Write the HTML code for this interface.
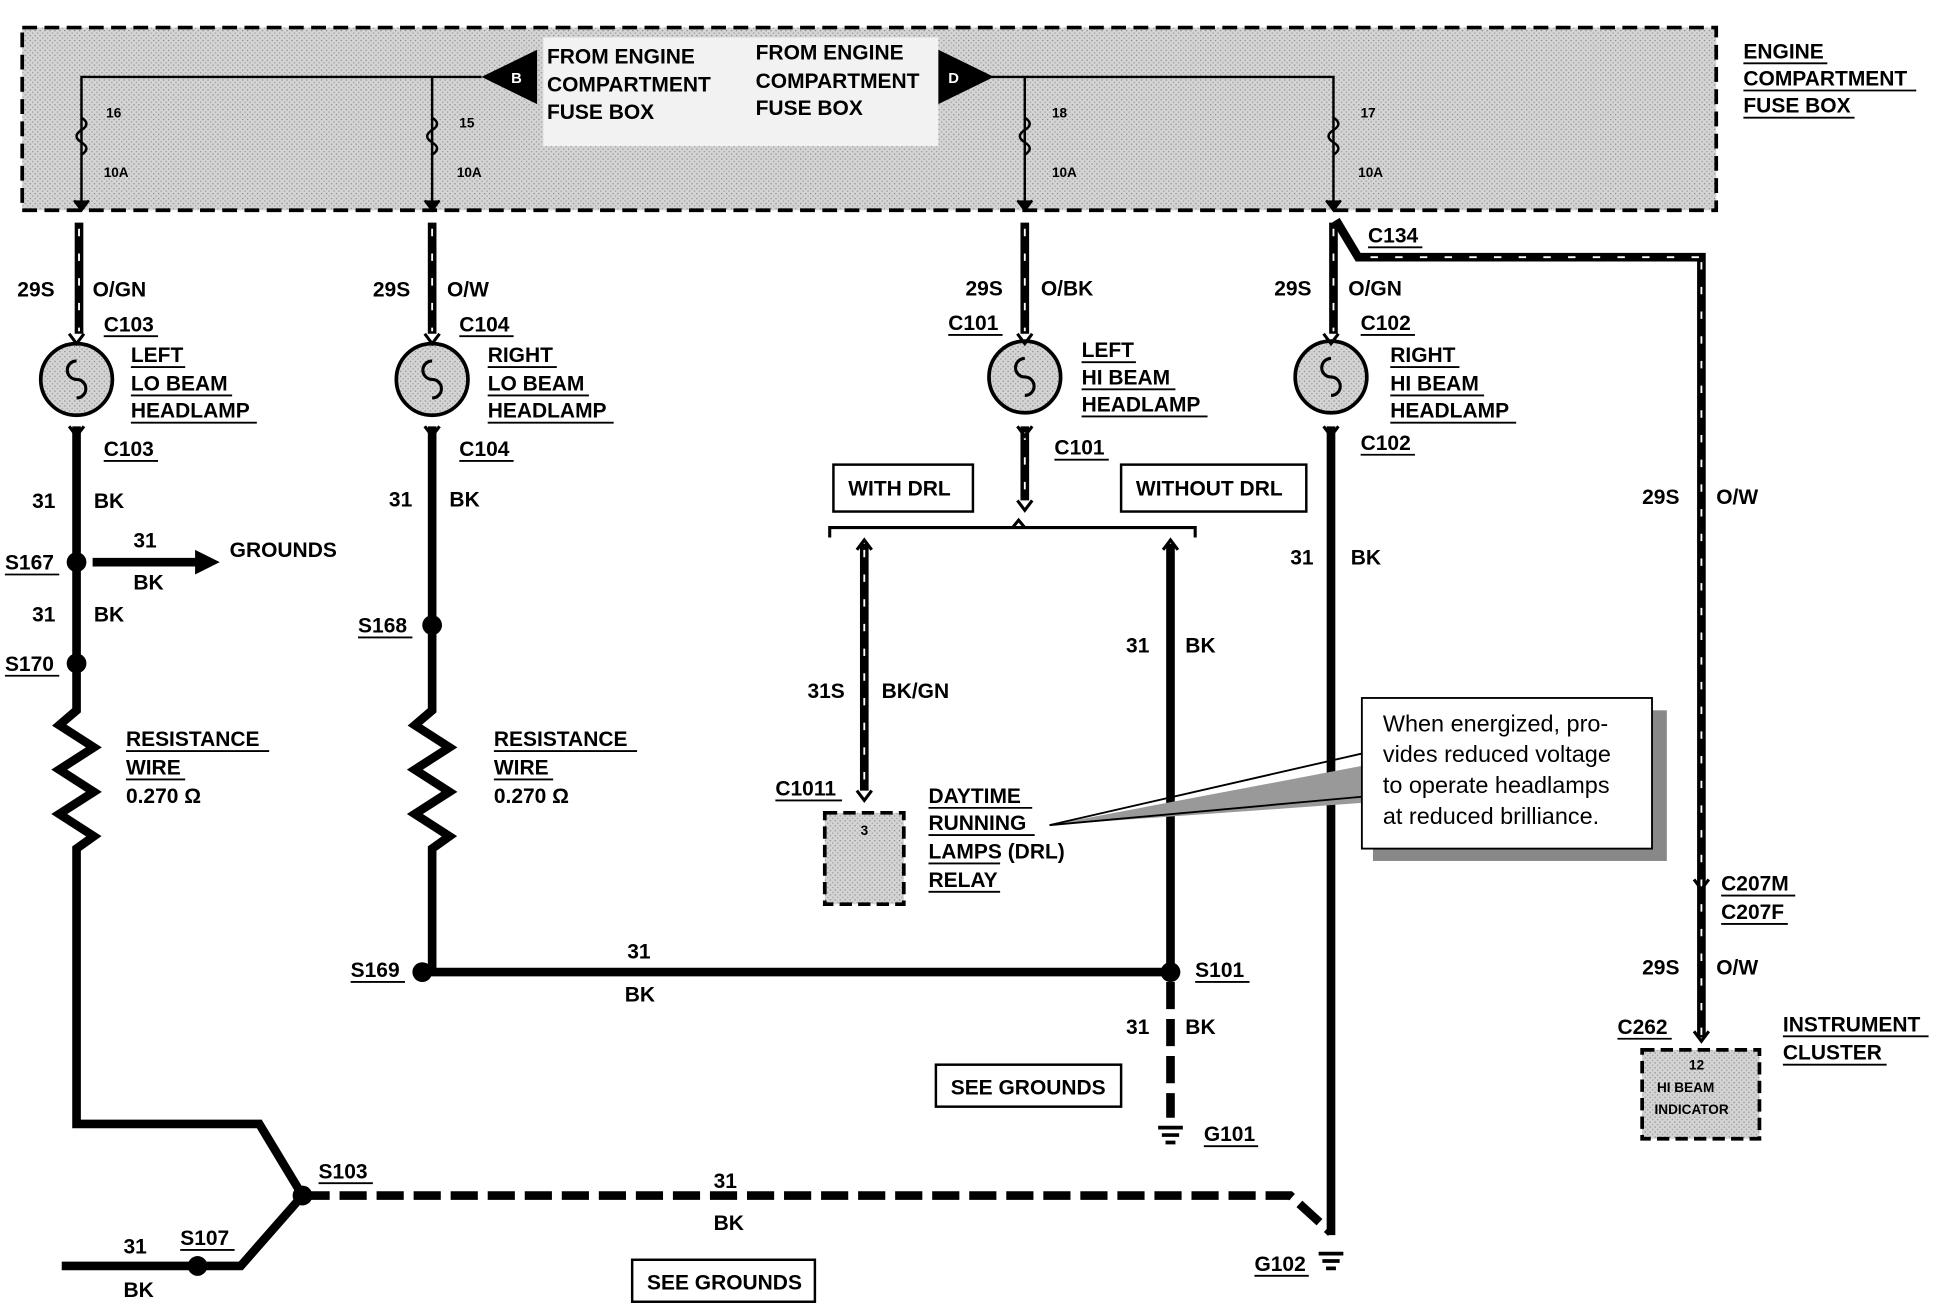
<!DOCTYPE html>
<html><head><meta charset="utf-8"><style>
html,body{margin:0;padding:0;background:#fff}
svg{display:block}
text{font-family:"Liberation Sans",Arial,sans-serif;font-weight:bold;font-size:17px;fill:#000}
.s{font-size:11px}
.n{font-weight:normal;font-size:19px}
</style></head><body>
<svg width="1936" height="1312" viewBox="0 0 1568 1062" xmlns="http://www.w3.org/2000/svg">
<defs><pattern id="st" width="4" height="4" patternUnits="userSpaceOnUse"><rect width="4" height="4" fill="#d4d4d4"/><rect width="1" height="1" fill="#888"/><rect x="2" y="2" width="1" height="1" fill="#999"/></pattern></defs>
<!-- fuse box -->
<rect x="18" y="22" width="1372" height="148" fill="url(#st)" stroke="#000" stroke-width="3" stroke-dasharray="12,6"/>
<rect x="440" y="30" width="320" height="88" fill="#f2f2f2"/>
<g stroke="#000" stroke-width="2" fill="none">
<path d="M66 170V62H390M800 62H1080V170M350 62V170M830 62V170"/>
<path d="M66 95q8 5 0 10q-8 5 0 10q8 5 0 10M350 95q8 5 0 10q-8 5 0 10q8 5 0 10M830 95q8 5 0 10q-8 5 0 10q8 5 0 10M1080 95q8 5 0 10q-8 5 0 10q8 5 0 10"/>
</g>
<polygon points="390,62 435,40 435,84" fill="#000"/><text x="414" y="67" style="fill:#fff;font-size:12px">B</text>
<polygon points="805,62 760,40 760,84" fill="#000"/><text x="768" y="67" style="fill:#fff;font-size:12px">D</text>
<g stroke="#000" stroke-width="2"><path d="M60 162l6 8 6-8M344 162l6 8 6-8M824 162l6 8 6-8M1074 162l6 8 6-8"/></g>
<text x="443" y="51">FROM ENGINE</text><text x="443" y="74">COMPARTMENT</text><text x="443" y="96">FUSE BOX</text>
<text x="612" y="48">FROM ENGINE</text><text x="612" y="71">COMPARTMENT</text><text x="612" y="93">FUSE BOX</text>
<text x="1412" y="47">ENGINE</text><text x="1412" y="69">COMPARTMENT</text><text x="1412" y="91">FUSE BOX</text>
<text class="s" x="86" y="95">16</text><text class="s" x="84" y="143">10A</text>
<text class="s" x="372" y="103">15</text><text class="s" x="370" y="143">10A</text>
<text class="s" x="852" y="95">18</text><text class="s" x="852" y="143">10A</text>
<text class="s" x="1102" y="95">17</text><text class="s" x="1100" y="143">10A</text>
<!-- heavy wires -->
<g stroke="#000" stroke-width="7" fill="none">
<path d="M64 180V270M350 180V270M830 180V270M1080 180V270"/>
<path d="M62 345V575l-14 12 28 18-28 18 28 18-28 18 28 18-14 10V910H210l35 58"/>
<path d="M350 345V575l-14 12 28 18-28 18 28 18-28 18 28 18-14 10V787H948"/>
<path d="M948 440V787M1078 345V1000M830 345V405M700 440V640"/>
<path d="M245 968l-50 57H50"/>
<path d="M1082 178l18 30H1378V840"/>
</g>
<g stroke="#000" stroke-width="7" stroke-dasharray="22,8" fill="none"><path d="M245 968H1045l33 30M948 795V905"/></g>
<g stroke="#fff" stroke-width="1.5" stroke-dasharray="6,14" fill="none"><path d="M64 185V268M350 185V268M830 185V268M1080 185V268M700 445V640M1110 208H1376M1378 212V838M830 350V400"/></g>
<!-- headlamps -->
<g stroke="#000" stroke-width="3" fill="url(#st)"><circle cx="62" cy="307" r="29"/><circle cx="350" cy="307" r="29"/><circle cx="830" cy="305" r="29"/><circle cx="1078" cy="305" r="29"/></g>
<g stroke="#000" stroke-width="2.5" fill="none"><path d="M62 292a7 7 0 1 0 0 15a7 7 0 1 1 0 15M350 292a7 7 0 1 0 0 15a7 7 0 1 1 0 15M830 290a7 7 0 1 0 0 15a7 7 0 1 1 0 15M1078 290a7 7 0 1 0 0 15a7 7 0 1 1 0 15"/>
<path d="M56 270l6 8 6-8M56 345l6 8 6-8M344 270l6 8 6-8M344 345l6 8 6-8M824 270l6 8 6-8M824 345l6 8 6-8M1072 270l6 8 6-8M1072 345l6 8 6-8"/>
<path d="M672 435v-8H968v8M820 427l5-6 5 6M694 445l6-8 6 8M942 445l6-8 6 8M694 640l6 8 6-8M1372 712l6 8 6-8M1372 835l6 8 6-8M824 405l6 8 6-8"/></g>
<!-- dots -->
<g fill="#000"><circle cx="62" cy="455" r="8"/><circle cx="62" cy="537" r="8"/><circle cx="350" cy="506" r="8"/><circle cx="342" cy="787" r="8"/><circle cx="948" cy="787" r="8"/><circle cx="245" cy="968" r="8"/><circle cx="160" cy="1025" r="8"/></g>
<path d="M75 455H160" stroke="#000" stroke-width="7"/><polygon points="158,445 178,455 158,465" fill="#000"/>
<!-- grounds -->
<g stroke="#000" stroke-width="3"><path d="M938 913h20M941 919h14M944 925h8M1068 1015h20M1071 1021h14M1074 1027h8"/></g>
<!-- relay, cluster -->
<rect x="668" y="658" width="64" height="74" fill="url(#st)" stroke="#000" stroke-width="3" stroke-dasharray="10,5"/><text class="s" x="697" y="676">3</text>
<rect x="1330" y="850" width="95" height="72" fill="url(#st)" stroke="#000" stroke-width="3" stroke-dasharray="10,5"/>
<text class="s" x="1368" y="866">12</text><text class="s" x="1342" y="884">HI BEAM</text><text class="s" x="1340" y="902">INDICATOR</text>
<!-- callout -->
<polygon points="850,668 1103,620 1103,650" fill="#999"/>
<path d="M850 668L1103 610M850 668L1103 645" stroke="#000" stroke-width="1.5"/>
<rect x="1112" y="575" width="238" height="122" fill="#888"/>
<rect x="1103" y="565" width="235" height="122" fill="#fff" stroke="#000" stroke-width="1.5"/>
<text class="n" x="1120" y="592">When energized, pro-</text><text class="n" x="1120" y="617">vides reduced voltage</text><text class="n" x="1120" y="642">to operate headlamps</text><text class="n" x="1120" y="667">at reduced brilliance.</text>
<!-- boxes -->
<g fill="none" stroke="#000" stroke-width="2"><rect x="675" y="376" width="113" height="38"/><rect x="908" y="376" width="150" height="38"/><rect x="758" y="862" width="150" height="34"/><rect x="512" y="1020" width="148" height="34"/></g>
<text x="687" y="401">WITH DRL</text><text x="920" y="401">WITHOUT DRL</text><text x="770" y="886">SEE GROUNDS</text><text x="524" y="1044">SEE GROUNDS</text>
<!-- labels -->
<g>
<text x="14" y="240">29S</text><text x="75" y="240">O/GN</text>
<text x="302" y="240">29S</text><text x="362" y="240">O/W</text>
<text x="782" y="239">29S</text><text x="843" y="239">O/BK</text>
<text x="1032" y="239">29S</text><text x="1092" y="239">O/GN</text>
<text x="84" y="268">C103</text><text x="372" y="268">C104</text><text x="768" y="267">C101</text><text x="1102" y="267">C102</text>
<text x="1108" y="196">C134</text>
<text x="106" y="293">LEFT</text><text x="106" y="316">LO BEAM</text><text x="106" y="338">HEADLAMP</text>
<text x="395" y="293">RIGHT</text><text x="395" y="316">LO BEAM</text><text x="395" y="338">HEADLAMP</text>
<text x="876" y="289">LEFT</text><text x="876" y="311">HI BEAM</text><text x="876" y="333">HEADLAMP</text>
<text x="1126" y="293">RIGHT</text><text x="1126" y="316">HI BEAM</text><text x="1126" y="338">HEADLAMP</text>
<text x="84" y="369">C103</text><text x="372" y="369">C104</text><text x="854" y="368">C101</text><text x="1102" y="364">C102</text>
<text x="26" y="411">31</text><text x="76" y="411">BK</text><text x="315" y="410">31</text><text x="364" y="410">BK</text>
<text x="4" y="461">S167</text><text x="108" y="443">31</text><text x="108" y="477">BK</text><text x="186" y="451">GROUNDS</text>
<text x="26" y="503">31</text><text x="76" y="503">BK</text><text x="4" y="543">S170</text><text x="290" y="512">S168</text>
<text x="1045" y="457">31</text><text x="1094" y="457">BK</text><text x="1330" y="408">29S</text><text x="1390" y="408">O/W</text>
<text x="912" y="528">31</text><text x="960" y="528">BK</text>
<text x="654" y="565">31S</text><text x="714" y="565">BK/GN</text>
<text x="102" y="604">RESISTANCE</text><text x="102" y="627">WIRE</text><text x="102" y="650">0.270 Ω</text>
<text x="400" y="604">RESISTANCE</text><text x="400" y="627">WIRE</text><text x="400" y="650">0.270 Ω</text>
<text x="628" y="644">C1011</text>
<text x="752" y="650">DAYTIME</text><text x="752" y="672">RUNNING</text><text x="752" y="695">LAMPS (DRL)</text><text x="752" y="718">RELAY</text>
<text x="1394" y="721">C207M</text><text x="1394" y="744">C207F</text>
<text x="1330" y="789">29S</text><text x="1390" y="789">O/W</text>
<text x="1310" y="837">C262</text><text x="1444" y="835">INSTRUMENT</text><text x="1444" y="858">CLUSTER</text>
<text x="284" y="791">S169</text><text x="508" y="776">31</text><text x="506" y="811">BK</text><text x="968" y="791">S101</text>
<text x="912" y="837">31</text><text x="960" y="837">BK</text><text x="975" y="924">G101</text>
<text x="258" y="954">S103</text><text x="578" y="962">31</text><text x="578" y="996">BK</text>
<text x="146" y="1008">S107</text><text x="100" y="1015">31</text><text x="100" y="1050">BK</text><text x="1016" y="1029">G102</text>
</g>
<g stroke="#000" stroke-width="1.5"><path d="M84 272h44M372 272h44M768 271h44M1102 271h44M1108 200h44M106 297h44M106 320h82M106 342h102M395 297h56M395 320h82M395 342h102M876 293h44M876 315h76M876 337h102M1126 297h56M1126 320h76M1126 342h102M84 373h44M372 373h44M854 372h44M1102 368h44M4 465h44M4 547h44M290 516h44M102 608h116M102 631h48M400 608h116M400 631h48M628 648h54M752 654h84M752 676h86M752 699h58M752 722h58M1394 725h60M1394 748h54M1310 841h44M1444 839h118M1444 862h84M284 795h44M968 795h44M975 928h44M258 958h44M146 1012h44M1016 1033h44M1412 51h68M1412 73h140M1412 95h90"/></g>
</svg>
</body></html>
